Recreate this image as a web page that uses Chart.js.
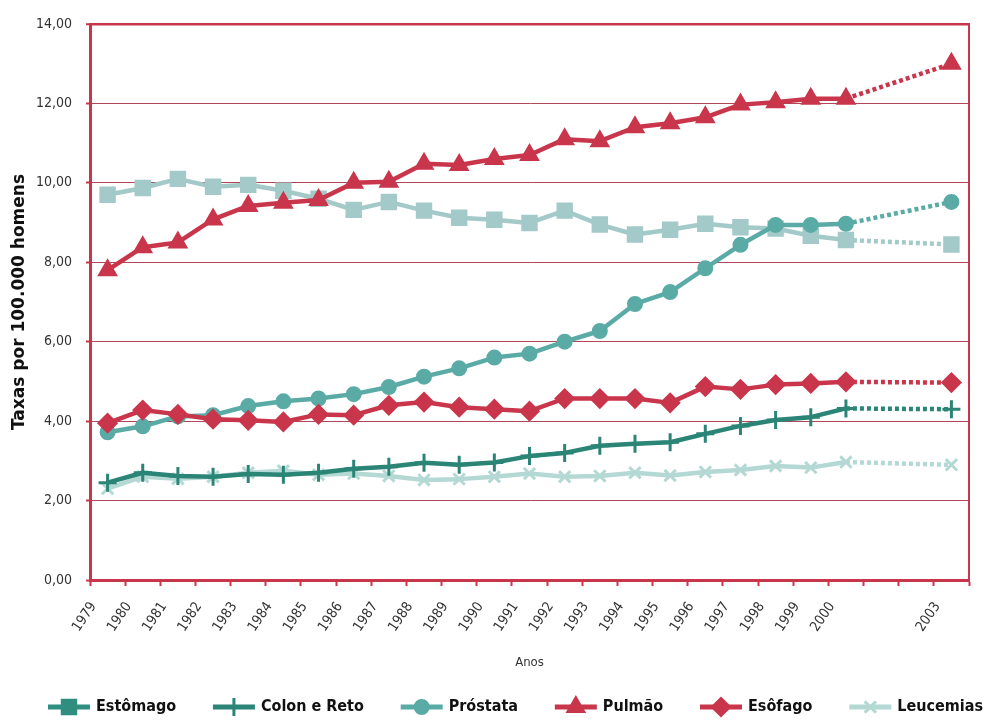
<!DOCTYPE html>
<html>
<head>
<meta charset="utf-8">
<script src="https://cdn.jsdelivr.net/npm/chart.js@4.4.1/dist/chart.umd.min.js"></script>
<style>
  html, body { margin: 0; padding: 0; background: #ffffff; }
  #wrap { width: 985px; height: 720px; }
</style>
</head>
<body>
<div id="wrap"><canvas id="grafico" width="985" height="720"></canvas></div>
<script>
// ============================================================================
// TAXAS DE MORTALIDADE POR CÂNCER EM HOMENS, 1979-2003
// ============================================================================

const anos = ['1979', '1980', '1981', '1982', '1983', '1984', '1985', '1986', '1987', '1988',
    '1989', '1990', '1991', '1992', '1993', '1994', '1995', '1996', '1997', '1998',
    '1999', '2000', '2001', '2002', '2003'];

// 2001 e 2002 ficam sem rótulo no eixo
const rotulosX = ['1979', '1980', '1981', '1982', '1983', '1984', '1985', '1986', '1987', '1988',
    '1989', '1990', '1991', '1992', '1993', '1994', '1995', '1996', '1997', '1998',
    '1999', '2000', '', '', '2003'];

const ticksY = [0, 2, 4, 6, 8, 10, 12, 14];

const estomago = [9.7, 9.87, 10.1, 9.9, 9.95, 9.8, 9.6, 9.32, 9.52, 9.3,
    9.12, 9.07, 8.99, 9.3, 8.95, 8.7, 8.82, 8.97, 8.88, 8.85,
    8.67, 8.56, null, null, 8.45];

const colonReto = [2.45, 2.7, 2.62, 2.6, 2.67, 2.65, 2.7, 2.8, 2.85, 2.95,
    2.9, 2.96, 3.12, 3.2, 3.38, 3.43, 3.47, 3.68, 3.88, 4.03,
    4.1, 4.32, null, null, 4.3];

const prostata = [3.72, 3.87, 4.12, 4.15, 4.38, 4.5, 4.57, 4.68, 4.86, 5.12,
    5.33, 5.6, 5.7, 6.0, 6.27, 6.95, 7.25, 7.85, 8.44, 8.94,
    8.94, 8.97, null, null, 9.52];

const pulmao = [7.8, 8.38, 8.5, 9.08, 9.42, 9.5, 9.57, 10.0, 10.03, 10.48,
    10.45, 10.6, 10.7, 11.1, 11.05, 11.4, 11.5, 11.65, 11.97, 12.03,
    12.12, 12.12, null, null, 13.0];

const esofago = [3.95, 4.28, 4.17, 4.05, 4.02, 3.98, 4.17, 4.15, 4.4, 4.48,
    4.35, 4.3, 4.25, 4.57, 4.57, 4.57, 4.46, 4.87, 4.8, 4.92,
    4.95, 4.99, null, null, 4.97];

const leucemias = [2.3, 2.6, 2.55, 2.6, 2.7, 2.75, 2.65, 2.68, 2.62, 2.52,
    2.54, 2.6, 2.68, 2.6, 2.62, 2.7, 2.63, 2.72, 2.77, 2.87,
    2.83, 2.97, null, null, 2.9];

const VERMELHO = '#c9364c';
const GRADE = '#b04656';
const FONTE = "'DejaVu Sans Condensed', 'DejaVu Sans', sans-serif";

// legenda usa um verde mais escuro para o estômago
const coresLegenda = ['#2f8e80', '#2b8577', '#5aaba6', VERMELHO, VERMELHO, '#b4d8d4'];

// trecho 2000 -> 2003 (sobre os anos sem dado) pontilhado
const pontilhado = ctx => (ctx.p0.skip || ctx.p1.skip ? [4, 3] : undefined);

function serie(label, data, cor, estilo, raio, ordem) {
    return {
        label: label,
        data: data,
        borderColor: cor,
        backgroundColor: cor,
        borderWidth: 4.5,
        pointStyle: estilo,
        pointRadius: raio,
        pointHoverRadius: raio,
        pointBorderWidth: 3,
        pointBorderColor: cor,
        pointBackgroundColor: cor,
        spanGaps: true,
        tension: 0,
        order: ordem,
        borderJoinStyle: 'round',
        segment: { borderDash: pontilhado }
    };
}

const legendaInferior = {
    id: 'legendaInferior',
    afterDraw(chart) {
        const ctx = chart.ctx;
        const area = chart.chartArea;

        // borda direita da área do gráfico
        ctx.save();
        ctx.strokeStyle = VERMELHO;
        ctx.lineWidth = 2;
        ctx.beginPath();
        ctx.moveTo(area.right, area.top - 1);
        ctx.lineTo(area.right, area.bottom);
        ctx.stroke();

        // legenda: linha + marcador + texto
        const y = 707;
        ctx.font = 'bold 16px ' + FONTE;
        ctx.textBaseline = 'middle';
        ctx.textAlign = 'left';
        const itens = chart.data.datasets.map(ds => ({ ds: ds, w: 48 + ctx.measureText(ds.label).width }));
        const total = itens.reduce((s, it) => s + it.w, 0);
        const inicio = 48, fim = 983;
        const vao = (fim - inicio - total) / (itens.length - 1);
        let x = inicio;
        itens.forEach((it, i) => {
            const cor = coresLegenda[i];
            ctx.strokeStyle = cor;
            ctx.fillStyle = cor;
            ctx.lineWidth = 5;
            ctx.setLineDash([]);
            ctx.beginPath();
            ctx.moveTo(x, y);
            ctx.lineTo(x + 42, y);
            ctx.stroke();
            ctx.lineWidth = 3;
            Chart.helpers.drawPoint(ctx, {
                pointStyle: it.ds.pointStyle,
                radius: it.ds.pointRadius,
                borderWidth: 3,
                rotation: 0
            }, x + 21, y);
            ctx.fillStyle = '#111111';
            ctx.fillText(it.ds.label, x + 48, y);
            x += it.w + vao;
        });
        ctx.restore();
    }
};

const ctx = document.getElementById('grafico').getContext('2d');

new Chart(ctx, {
    type: 'line',
    data: {
        labels: anos,
        datasets: [
            serie('Estômago', estomago, '#a3c9c9', 'rect', 9.5, 6),
            serie('Colon e Reto', colonReto, '#2b8577', 'cross', 9, 4),
            serie('Próstata', prostata, '#5aaba6', 'circle', 6.5, 3),
            serie('Pulmão', pulmao, VERMELHO, 'triangle', 9, 1),
            serie('Esôfago', esofago, VERMELHO, 'rectRot', 8.5, 2),
            serie('Leucemias', leucemias, '#b4d8d4', 'crossRot', 8, 5)
        ]
    },
    options: {
        responsive: false,
        animation: false,
        events: [],
        layout: {
            padding: { left: 0, right: 16, top: 24, bottom: 45 }
        },
        plugins: {
            legend: { display: false },
            tooltip: { enabled: false }
        },
        scales: {
            x: {
                type: 'category',
                offset: true,
                afterFit: scale => { scale.height = 95; },
                border: { display: true, color: VERMELHO, width: 3 },
                grid: {
                    offset: true,
                    drawOnChartArea: false,
                    drawTicks: true,
                    tickLength: 6,
                    tickWidth: 2,
                    color: VERMELHO
                },
                ticks: {
                    autoSkip: false,
                    minRotation: 56,
                    maxRotation: 56,
                    padding: 13,
                    labelOffset: -14,
                    color: '#333333',
                    font: { family: FONTE, size: 14 },
                    callback: (valor, i) => rotulosX[i]
                },
                title: {
                    display: true,
                    text: 'Anos',
                    color: '#333333',
                    font: { family: FONTE, size: 13 },
                    padding: { top: 0, bottom: 5 }
                }
            },
            y: {
                min: ticksY[0],
                max: ticksY[ticksY.length - 1],
                afterFit: scale => { scale.width = 90; },
                afterBuildTicks: scale => { scale.ticks = ticksY.map(v => ({ value: v })); },
                border: { display: true, color: VERMELHO, width: 3 },
                grid: {
                    color: c => (c.tick && c.tick.value === 14 ? VERMELHO : GRADE),
                    lineWidth: c => (c.tick && c.tick.value === 14 ? 2.5 : 1),
                    tickLength: 4,
                    tickColor: VERMELHO,
                    tickWidth: 2
                },
                ticks: {
                    padding: 14,
                    color: '#333333',
                    font: { family: FONTE, size: 14 },
                    callback: v => v.toFixed(2).replace('.', ',')
                },
                title: {
                    display: true,
                    text: 'Taxas por 100.000 homens',
                    color: '#111111',
                    font: { family: "'DejaVu Sans', sans-serif", size: 17, weight: 'bold' },
                    padding: { top: 9, bottom: 0 }
                }
            }
        }
    },
    plugins: [legendaInferior]
});
</script>
</body>
</html>
